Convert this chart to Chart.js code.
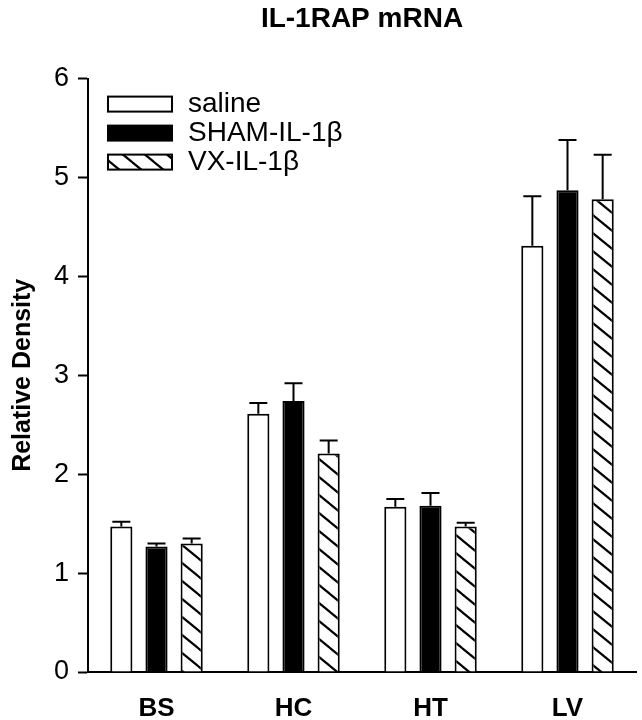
<!DOCTYPE html>
<html>
<head>
<meta charset="utf-8">
<script src="https://cdn.jsdelivr.net/npm/chart.js@4/dist/chart.umd.min.js"></script>
<style>
  html, body { margin: 0; padding: 0; background: #fff; }
  #wrap { width: 642px; height: 720px; }
</style>
</head>
<body>
<div id="wrap"><canvas id="chart" width="642" height="720"></canvas></div>
<script>
// datos
const categories = ["BS", "HC", "HT", "LV"];
const seriesNames = ["saline", "SHAM-IL-1\u03b2", "VX-IL-1\u03b2"];
const saline = [1.47, 2.61, 1.67, 4.31];
const salineErr = [0.05, 0.11, 0.08, 0.50];
const sham = [1.27, 2.74, 1.68, 4.87];
const shamErr = [0.03, 0.18, 0.13, 0.51];
const vx = [1.30, 2.21, 1.47, 4.78];
const vxErr = [0.05, 0.13, 0.04, 0.45];
const yTicks = [0, 1, 2, 3, 4, 5, 6];

const FONT = "'Liberation Sans', Arial, Helvetica, sans-serif";

// patrón de rayas diagonales
function makeHatch() {
  const w = 22, h = 18;
  const c = document.createElement("canvas");
  c.width = w; c.height = h;
  const g = c.getContext("2d");
  g.fillStyle = "#fff";
  g.fillRect(0, 0, w, h);
  g.strokeStyle = "#000";
  g.lineWidth = 2.2;
  g.beginPath();
  for (const [dx, dy] of [[0, 0], [-w, 0], [w, 0], [0, -h], [0, h]]) {
    g.moveTo(dx, dy);
    g.lineTo(dx + w, dy + h);
  }
  g.stroke();
  return g.createPattern(c, "repeat");
}
const hatch = makeHatch();

const errors = [salineErr, shamErr, vxErr];

// barras de error (solo hacia arriba)
const errorBars = {
  id: "errorBars",
  afterDatasetsDraw(chart) {
    const ctx = chart.ctx;
    const y = chart.scales.y;
    ctx.save();
    ctx.strokeStyle = "#000";
    ctx.lineWidth = 2;
    chart.data.datasets.forEach((ds, i) => {
      const meta = chart.getDatasetMeta(i);
      meta.data.forEach((bar, j) => {
        const top = y.getPixelForValue(ds.data[j]);
        const end = y.getPixelForValue(ds.data[j] + errors[i][j]);
        ctx.beginPath();
        ctx.moveTo(bar.x, top);
        ctx.lineTo(bar.x, end);
        ctx.moveTo(bar.x - 9, end);
        ctx.lineTo(bar.x + 9, end);
        ctx.stroke();
      });
    });
    ctx.restore();
  }
};

// leyenda dentro del área del gráfico
const insideLegend = {
  id: "insideLegend",
  afterDraw(chart) {
    const ctx = chart.ctx;
    const a = chart.chartArea;
    const x0 = a.left + 20, y0 = a.top + 18;
    ctx.save();
    chart.data.datasets.forEach((ds, i) => {
      const by = y0 + i * 29;
      ctx.fillStyle = ds.backgroundColor;
      ctx.fillRect(x0, by, 64, 15);
      ctx.strokeStyle = "#000";
      ctx.lineWidth = 2;
      ctx.strokeRect(x0, by, 64, 15);
      ctx.fillStyle = "#000";
      ctx.font = "28px " + FONT;
      ctx.textBaseline = "middle";
      ctx.textAlign = "left";
      ctx.fillText(ds.label, x0 + 80, by + 8);
    });
    ctx.restore();
  }
};

new Chart(document.getElementById("chart"), {
  type: "bar",
  data: {
    labels: categories,
    datasets: [
      { label: seriesNames[0], data: saline, backgroundColor: "#fff", borderColor: "#000", borderWidth: 2 },
      { label: seriesNames[1], data: sham, backgroundColor: "#000", borderColor: "#000", borderWidth: 2 },
      { label: seriesNames[2], data: vx, backgroundColor: hatch, borderColor: "#000", borderWidth: 2 }
    ]
  },
  options: {
    responsive: false,
    animation: false,
    layout: { padding: { left: 0, right: 6, top: 0, bottom: 0 } },
    datasets: { bar: { categoryPercentage: 0.77, barPercentage: 0.63 } },
    plugins: {
      legend: { display: false },
      tooltip: { enabled: false },
      title: {
        display: true,
        fullSize: false,
        text: "IL-1RAP mRNA",
        color: "#000",
        font: { family: FONT, size: 28, weight: "bold" },
        padding: { top: 2, bottom: 43 }
      }
    },
    scales: {
      x: {
        grid: { display: false },
        border: { display: true, color: "#000", width: 2 },
        ticks: { color: "#000", padding: 13, font: { family: FONT, size: 26, weight: "bold" } },
        afterFit(s) { s.height = 48; }
      },
      y: {
        min: 0, max: 6,
        afterBuildTicks(s) { s.ticks = yTicks.map(v => ({ value: v })); },
        grid: { drawOnChartArea: false, drawTicks: true, tickLength: 10, tickWidth: 2, tickColor: "#000" },
        border: { display: true, color: "#000", width: 2 },
        ticks: { color: "#000", padding: 9, font: { family: FONT, size: 27 } },
        title: {
          display: true,
          text: "Relative Density",
          color: "#000",
          font: { family: FONT, size: 25, weight: "bold" },
          padding: { top: 8, bottom: 0 }
        },
        afterFit(s) { s.width = 88; }
      }
    }
  },
  plugins: [errorBars, insideLegend]
});
</script>
</body>
</html>
